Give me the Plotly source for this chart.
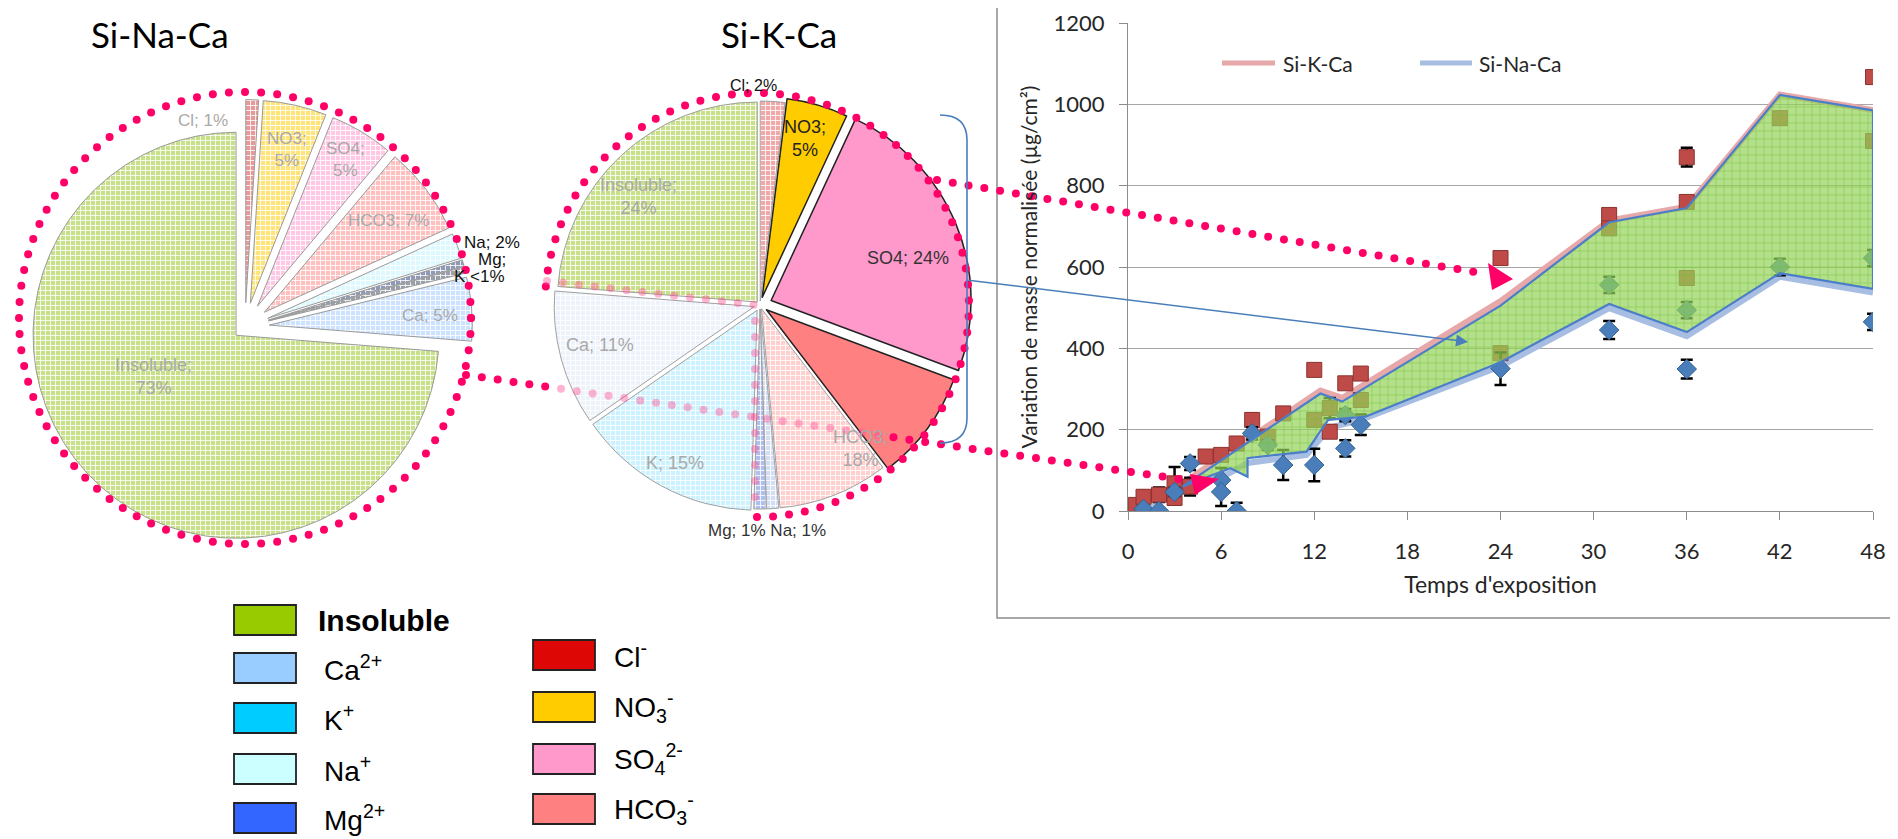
import math
import plotly.graph_objects as go

W, H = 1898, 839
OFF = 8  # page body margin compensation (px)

# ---------------- data ----------------
ion_labels = ["Cl", "NO3", "SO4", "HCO3", "Na", "Mg", "K", "Ca", "Insoluble"]
sinaca_values = [1, 5, 5, 7, 2, 0.5, 0.5, 5, 73]          # Si-Na-Ca pie (%)
sikca_labels = ["Cl", "NO3", "SO4", "HCO3 (a)", "HCO3 (b)", "Na", "Mg", "K", "Ca", "Insoluble"]
sikca_values = [2, 5, 24, 9, 9, 1, 1, 15, 11, 24]          # Si-K-Ca pie (%), HCO3 18 % drawn in two parts

# mass-gain curves (µg/cm²) vs exposure time (h)
sikca_line_t = [3, 12.4, 13.8, 24, 31, 36, 42, 48]
sikca_line_v = [55, 296, 278, 516, 714, 748, 1024, 986]
sinaca_line_t = [1, 3, 6.5, 7.7, 11.5, 13, 15, 24, 31, 36, 42, 48]
sinaca_line_v = [8, 44, 92, 118, 138, 205, 224, 356, 499, 430, 576, 537]

band_upper_t = [3.5, 12.4, 13.8, 24, 31, 36, 42, 48]
band_upper_v = [60, 289, 269, 505, 710, 745, 1023, 985]
band_lower_t = [3.5, 6.6, 7.7, 7.7, 11.5, 12.9, 15.3, 24, 31, 36, 42, 48]
band_lower_v = [60, 105, 84, 130, 146, 224, 232, 366, 509, 440, 585, 546]

sikca_t = [0.5, 1, 2, 3, 3, 4, 5, 6, 7, 8, 9, 10, 12, 12, 13, 13, 14, 15, 15, 24, 24, 31, 31, 36, 36, 36, 42, 48, 48]
sikca_v = [15, 35, 40, 68, 32, 60, 134, 138, 166, 224, 183, 240, 347, 224, 195, 253, 314, 338, 273, 622, 388, 728, 695, 870, 760, 573, 966, 1067, 910]
sikca_err = [0, 15, 18, 40, 0, 22, 10, 12, 10, 15, 10, 12, 8, 15, 15, 25, 12, 10, 10, 10, 10, 12, 10, 23, 10, 10, 10, 8, 10]

sinaca_t = [1, 2, 3, 4, 6, 6, 7, 8, 9, 10, 12, 14, 14, 15, 24, 31, 31, 36, 36, 42, 48, 48]
sinaca_v = [5, 0, 47, 117, 76, 47, 0, 191, 162, 113, 113, 154, 236, 212, 350, 445, 556, 349, 494, 600, 465, 622]
sinaca_err = [5, 5, 10, 16, 30, 35, 20, 15, 12, 37, 40, 20, 15, 25, 40, 22, 20, 23, 20, 20, 20, 20]

x_ticks = [0, 6, 12, 18, 24, 30, 36, 42, 48]

legend_left = [("Insoluble", "#99CC00"), ("Ca<sup>2+</sup>", "#99CCFF"), ("K<sup>+</sup>", "#00CCFF"),
               ("Na<sup>+</sup>", "#CCFFFF"), ("Mg<sup>2+</sup>", "#3366FF")]
legend_right = [("Cl<sup>-</sup>", "#DD0806"), ("NO<sub>3</sub><sup>-</sup>", "#FFCC00"),
                ("SO<sub>4</sub><sup>2-</sup>", "#FF99CC"), ("HCO<sub>3</sub><sup>-</sup>", "#FF8080")]

# ---------------- helpers ----------------
def PX(x):
    return (x - OFF) / W


def PY(y):
    return 1 - (y - OFF) / H


shapes = []
annotations = []
PINK = "#FF0066"
PINK_FADED = "rgba(255,70,140,0.40)"


def dot(x, y, color=PINK, d=8):
    shapes.append(dict(type="circle", xref="paper", yref="paper",
                       x0=PX(x - d / 2), x1=PX(x + d / 2), y0=PY(y + d / 2), y1=PY(y - d / 2),
                       fillcolor=color, line=dict(width=0), layer="above"))


def dotted_line(x0, y0, x1, y1, color_fn, spacing=16):
    L = math.hypot(x1 - x0, y1 - y0)
    n = int(L // spacing)
    for i in range(n + 1):
        f = i * spacing / L
        x, y = x0 + f * (x1 - x0), y0 + f * (y1 - y0)
        dot(x, y, color_fn(x, y))


def dotted_arc(cx, cy, r, a0, a1, spacing=16, color=PINK):
    span = math.radians(a1 - a0)
    n = int(abs(span) * r // spacing)
    for i in range(n + 1):
        a = math.radians(a0) + span * i / n
        dot(cx + r * math.cos(a), cy + r * math.sin(a), color)


def txt(x, y, text, size, color="black", family="Liberation Sans", xanchor="center", bold=False):
    if bold:
        text = "<b>" + text + "</b>"
    annotations.append(dict(x=PX(x), y=PY(y), xref="paper", yref="paper", text=text, showarrow=False,
                            xanchor=xanchor, yanchor="middle", align="center",
                            font=dict(size=size, color=color, family=family)))


def tri(p1, p2, p3, color):
    path = "M {} {} L {} {} L {} {} Z".format(PX(p1[0]), PY(p1[1]), PX(p2[0]), PY(p2[1]), PX(p3[0]), PY(p3[1]))
    shapes.append(dict(type="path", xref="paper", yref="paper", path=path, fillcolor=color,
                       line=dict(width=0), layer="above"))


def hline(x0, x1, y, color, width):
    shapes.append(dict(type="line", xref="paper", yref="paper", x0=PX(x0), x1=PX(x1), y0=PY(y), y1=PY(y),
                       line=dict(color=color, width=width), layer="above"))


fig = go.Figure()

# ---------------- pies ----------------
left_colors = ["#E89A9A", "#FFE47A", "#FFC8E4", "#FFC0C0", "#DDF9FF", "#8E9AB8", "#9AA0AA", "#CCE2FF", "#C8E08A"]
cx1, cy1, r1, pm1 = 245, 327, 203, 0.12
fig.add_trace(go.Pie(
    labels=ion_labels, values=sinaca_values, sort=False, direction="clockwise", rotation=0,
    domain=dict(x=[PX(cx1 - r1 * (1 + pm1)), PX(cx1 + r1 * (1 + pm1))],
                y=[PY(cy1 + r1 * (1 + pm1)), PY(cy1 - r1 * (1 + pm1))]),
    pull=[0.12] * 8 + [0.06],
    marker=dict(colors=left_colors, line=dict(color="#9A9A9A", width=1),
                pattern=dict(shape="+", fgcolor="white", bgcolor=left_colors, size=5, solidity=0.3)),
    textinfo="none", showlegend=False, hoverinfo="label+percent", automargin=False))

mid_colors = ["#F0A8A8", "#FFCC00", "#FF99CC", "#FF8080", "#FFD0D0", "#D4DEF2", "#AFC0F0", "#CCF2FF", "#EDF2FB", "#C8E08A"]
mid_shapes = ["+", "", "", "", "+", "+", "+", "+", "+", "+"]
mid_line_col = ["#A0A0A0", "#222222", "#222222", "#222222", "#A0A0A0", "#A0A0A0", "#A0A0A0", "#A0A0A0", "#A0A0A0", "#A0A0A0"]
mid_line_w = [1, 1.5, 1.5, 1.5, 1, 1, 1, 1, 1, 1]
cx2, cy2, r2, pm2 = 760, 305, 200, 0.06
fig.add_trace(go.Pie(
    labels=sikca_labels, values=sikca_values, sort=False, direction="clockwise", rotation=0,
    domain=dict(x=[PX(cx2 - r2 * (1 + pm2)), PX(cx2 + r2 * (1 + pm2))],
                y=[PY(cy2 + r2 * (1 + pm2)), PY(cy2 - r2 * (1 + pm2))]),
    pull=[0.02, 0.04, 0.06, 0.04, 0.02, 0.02, 0.02, 0.03, 0.03, 0.02],
    marker=dict(colors=mid_colors, line=dict(color=mid_line_col, width=mid_line_w),
                pattern=dict(shape=mid_shapes, fgcolor="white", bgcolor=mid_colors, size=5, solidity=0.3)),
    textinfo="none", showlegend=False, hoverinfo="label+percent", automargin=False))

# ---------------- right chart ----------------
SIKCA_COL, SINACA_COL = "#E6A8A8", "#A7BDE2"
fig.add_trace(go.Scatter(x=sikca_line_t, y=sikca_line_v, mode="lines", name="Si-K-Ca", showlegend=False,
                         line=dict(color=SIKCA_COL, width=6)))
fig.add_trace(go.Scatter(x=sinaca_line_t, y=sinaca_line_v, mode="lines", name="Si-Na-Ca", showlegend=False,
                         line=dict(color=SINACA_COL, width=6)))
fig.add_trace(go.Scatter(x=sikca_t, y=sikca_v, mode="markers", showlegend=False, name="Si-K-Ca mesures",
                         marker=dict(symbol="square", size=15, color="#BE4B48", line=dict(color="#8C3230", width=1)),
                         error_y=dict(type="data", array=sikca_err, color="black", thickness=2.5, width=6)))
fig.add_trace(go.Scatter(x=sinaca_t, y=sinaca_v, mode="markers", showlegend=False, name="Si-Na-Ca mesures",
                         marker=dict(symbol="diamond", size=15, color="#4A7EBB", line=dict(color="#36618F", width=1)),
                         error_y=dict(type="data", array=sinaca_err, color="black", thickness=2.5, width=6)))
fig.add_trace(go.Scatter(x=band_upper_t + band_lower_t[::-1], y=band_upper_v + band_lower_v[::-1],
                         mode="lines", fill="toself", showlegend=False, hoverinfo="skip",
                         line=dict(color="#4A7EC8", width=2.2),
                         fillcolor="rgba(140,205,70,0.72)",
                         fillpattern=dict(shape="+", fgcolor="rgba(105,190,45,0.95)",
                                          bgcolor="rgba(150,212,90,0.70)", size=8, solidity=0.22)))

axis_font = dict(family="Lato", size=22, color="#262626")
fig.update_layout(
    width=W, height=H, margin=dict(l=0, r=0, t=0, b=0, pad=0, autoexpand=False), autosize=False,
    paper_bgcolor="white", plot_bgcolor="rgba(0,0,0,0)", showlegend=False,
    xaxis=dict(domain=[PX(1128), PX(1873)], range=[0, 48], tickvals=x_ticks, showgrid=False, zeroline=False,
               showline=True, linecolor="#8C8C8C", linewidth=1.3, ticks="outside", ticklen=8,
               tickcolor="#8C8C8C", tickwidth=1.3, tickfont=axis_font, ticklabelstandoff=12, automargin=False,
               title=dict(text="Temps d'exposition", font=dict(family="Lato", size=23, color="#262626"), standoff=14)),
    yaxis=dict(domain=[PY(511), PY(23)], range=[0, 1200], dtick=200, showgrid=True, gridcolor="#A6A6A6",
               gridwidth=1.3, zeroline=False, showline=True, linecolor="#8C8C8C", linewidth=1.3,
               ticks="outside", ticklen=8, tickcolor="#8C8C8C", tickwidth=1.3, tickfont=axis_font,
               ticklabelstandoff=10, automargin=False,
               title=dict(text="Variation de masse normalisée (µg/cm²)",
                          font=dict(family="Lato", size=21, color="#262626"), standoff=10)),
)

# series legend of the right chart
hline(1222, 1275, 63, SIKCA_COL, 5)
txt(1281, 63, "Si-K-Ca", 21, "#262626", family="Lato", xanchor="left")
hline(1420, 1472, 63, SINACA_COL, 5)
txt(1477, 63, "Si-Na-Ca", 21, "#262626", family="Lato", xanchor="left")

# chart frame
shapes.append(dict(type="rect", xref="paper", yref="paper", x0=PX(997), x1=PX(1905), y0=PY(618), y1=PY(-5),
                   line=dict(color="#8C8C8C", width=1.5), layer="below"))

# ---------------- dotted decorations ----------------
dotted_arc(245, 318, 226, 0, 360)
dotted_arc(757, 305, 212, 185, 450)
dotted_line(547, 281, 755, 305, lambda x, y: PINK_FADED)
dotted_line(755, 321, 755, 505, lambda x, y: PINK_FADED)
dotted_line(466, 375, 1186, 480, lambda x, y: PINK_FADED if 556 < x < 890 else PINK)
dotted_line(937, 180, 1486, 274, lambda x, y: PINK)
tri((1513, 279), (1488, 263), (1492, 290), PINK)
tri((1219, 479), (1190, 474), (1195, 495), PINK)

# blue bracket + arrow
bp = "M {} {} Q {} {} {} {} L {} {} Q {} {} {} {}".format(
    PX(940), PY(115), PX(967), PY(115), PX(967), PY(140), PX(967), PY(418), PX(967), PY(443), PX(940), PY(443))
shapes.append(dict(type="path", xref="paper", yref="paper", path=bp, line=dict(color="#4A7EBB", width=1.6),
                   layer="above"))
annotations.append(dict(x=PX(1468), y=PY(342), xref="paper", yref="paper", ax=967 - 1468, ay=280 - 342,
                        axref="pixel", ayref="pixel", text="", showarrow=True, arrowhead=2, arrowsize=1.6,
                        arrowwidth=1.5, arrowcolor="#4A7EBB"))

# ---------------- titles & pie labels ----------------
txt(160, 34, "Si-Na-Ca", 35, family="Lato")
txt(779, 34, "Si-K-Ca", 35, family="Lato")

FADE = "#A9A9A9"
txt(203, 120, "Cl; 1%", 17, FADE)
txt(287, 150, "NO3;<br>5%", 17, FADE)
txt(345, 160, "SO4;<br>5%", 17, FADE)
txt(388, 220, "HCO3; 7%", 17, FADE)
txt(462, 242, "Na; 2%", 17, "#111111", xanchor="left")
txt(476, 259, "Mg;", 17, "#111111", xanchor="left")
txt(452, 276, "K <1%", 17, "#111111", xanchor="left")
txt(430, 315, "Ca; 5%", 17, FADE)
txt(153, 376, "Insoluble;<br>73%", 18, FADE)

txt(753, 85, "Cl; 2%", 16, "#111111")
txt(805, 138, "NO3;<br>5%", 18, "#222222")
txt(908, 258, "SO4; 24%", 18, "#333333")
txt(860, 448, "HCO3;<br>18%", 18, FADE)
txt(767, 530, "Mg; 1% Na; 1%", 17, "#333333")
txt(638, 197, "Insoluble;<br>24%", 18, FADE)
txt(600, 345, "Ca; 11%", 18, FADE)
txt(675, 463, "K; 15%", 18, FADE)

# ---------------- ion legend ----------------
left_y = [620, 668, 718, 769, 818]
for (lab, col), yc in zip(legend_left, left_y):
    shapes.append(dict(type="rect", xref="paper", yref="paper", x0=PX(234), x1=PX(296), y0=PY(yc + 15),
                       y1=PY(yc - 15), fillcolor=col, line=dict(color="#222222", width=1.8), layer="above"))
    first = lab == "Insoluble"
    txt(316 if first else 322, yc, lab, 30 if first else 28, "black", xanchor="left", bold=first)
right_y = [655, 707, 759, 809]
for (lab, col), yc in zip(legend_right, right_y):
    shapes.append(dict(type="rect", xref="paper", yref="paper", x0=PX(533), x1=PX(595), y0=PY(yc + 15),
                       y1=PY(yc - 15), fillcolor=col, line=dict(color="#222222", width=1.8), layer="above"))
    txt(612, yc, lab, 28, "black", xanchor="left")

fig.update_layout(shapes=shapes, annotations=annotations)
fig.write_html("out.html")
